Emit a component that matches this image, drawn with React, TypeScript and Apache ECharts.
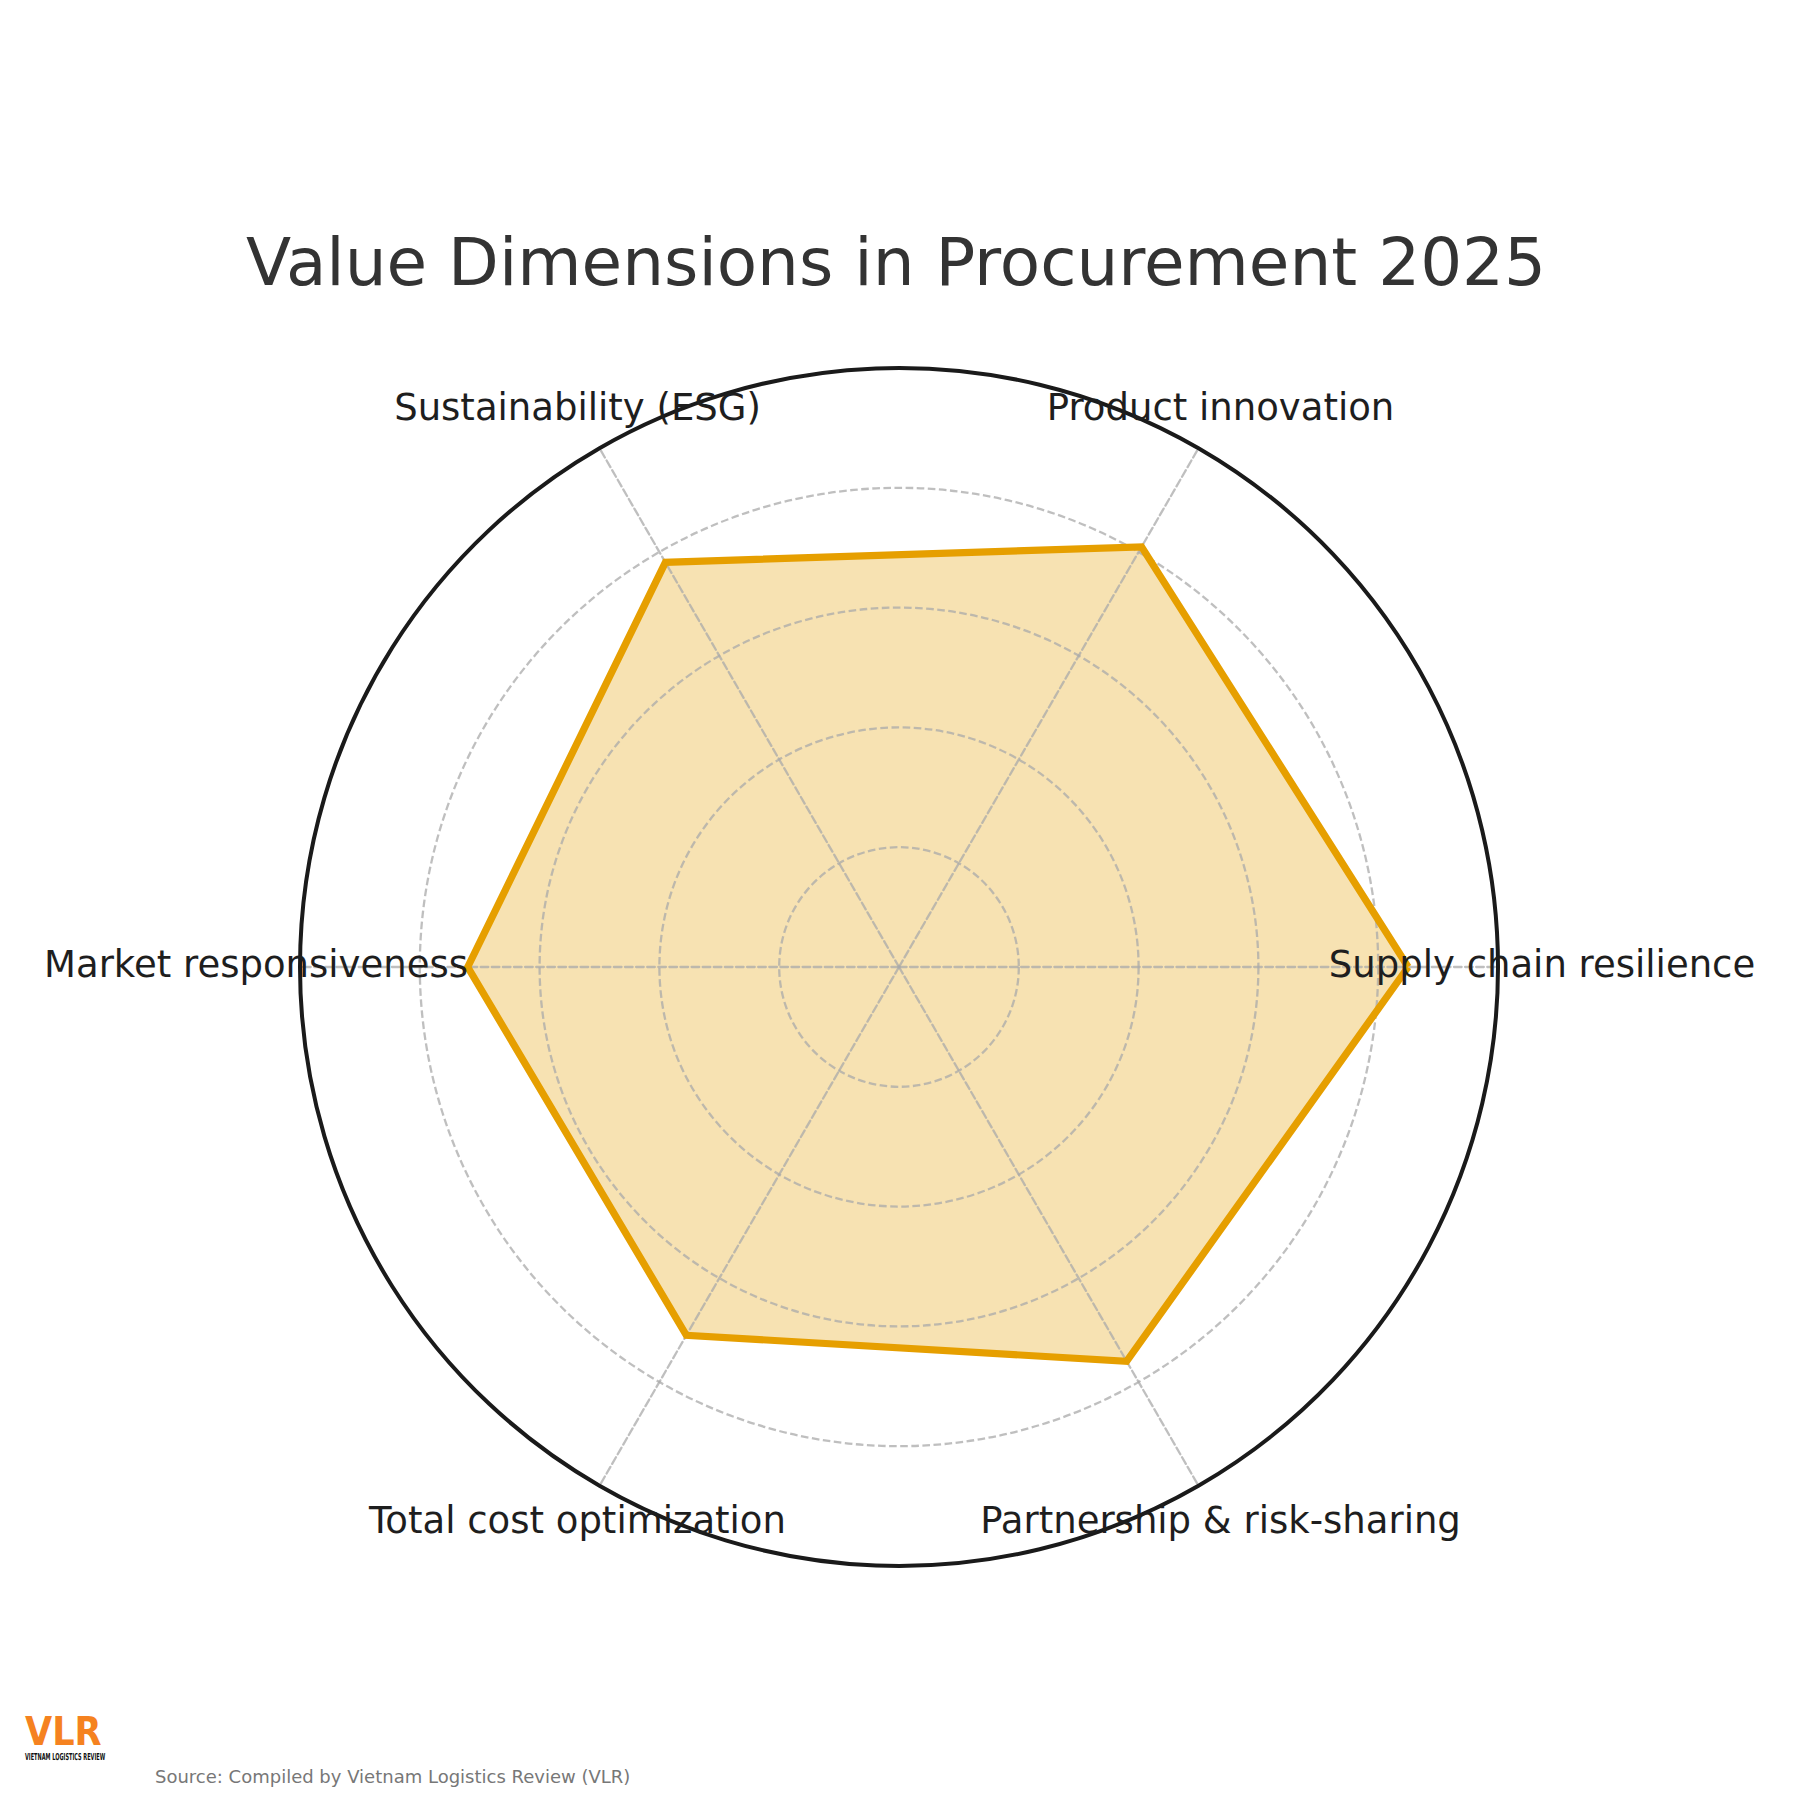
import React, { useEffect, useRef } from "react";
import * as echarts from "echarts";

const TITLE = "Value Dimensions in Procurement 2025";
const SOURCE = "Source: Compiled by Vietnam Logistics Review (VLR)";
const categories = [
  "Supply chain resilience",
  "Product innovation",
  "Sustainability (ESG)",
  "Market responsiveness",
  "Total cost optimization",
  "Partnership & risk-sharing",
];
const values = [85, 81, 78, 72, 71, 76];
const MAX_VALUE = 100;
const RING_COUNT = 5;

const CX = 899;
const CY = 967;
const RADIUS = 599;
const LABEL_R = 643;
const LABEL_DY = -3;
const FONT = "DejaVu Sans";
const GRID_STYLE = { color: "rgba(170,170,170,0.75)", width: 2.3, type: [7.6, 3.5] };

export default function App() {
  const ref = useRef<HTMLDivElement>(null);
  useEffect(() => {
    document.body.style.margin = "0";
    if (!ref.current) return;
    const chart = echarts.init(ref.current, null, { renderer: "svg" });
    const n = categories.length;
    const indicators = categories.map((name) => ({ name, min: 0, max: MAX_VALUE }));
    const labelGraphics = categories.map((name, i) => {
      const a = (i * 2 * Math.PI) / n;
      return {
        type: "text",
        z: 100,
        x: CX + LABEL_R * Math.cos(a),
        y: CY - LABEL_R * Math.sin(a) + LABEL_DY,
        style: {
          text: name,
          fill: "#1e1e1e",
          font: `37px "${FONT}"`,
          textAlign: "center",
          textVerticalAlign: "middle",
        },
      };
    });
    chart.setOption({
      animation: false,
      backgroundColor: "#ffffff",
      radar: [
        {
          z: 3,
          center: [CX, CY],
          radius: RADIUS,
          startAngle: 0,
          shape: "circle",
          splitNumber: RING_COUNT,
          indicator: indicators,
          axisName: { show: false },
          axisLine: { show: true, lineStyle: GRID_STYLE },
          axisTick: { show: false },
          axisLabel: { show: false },
          splitLine: { show: true, lineStyle: GRID_STYLE },
          splitArea: { show: false },
        },
        {
          z: 4,
          center: [CX, CY],
          radius: RADIUS,
          startAngle: 0,
          shape: "circle",
          splitNumber: 1,
          indicator: indicators,
          axisName: { show: false },
          axisLine: { show: false },
          axisTick: { show: false },
          axisLabel: { show: false },
          splitLine: { show: true, lineStyle: { color: "#1a1a1a", width: 4, type: "solid" } },
          splitArea: { show: false },
        },
      ],
      series: [
        {
          type: "radar",
          radarIndex: 0,
          z: 1,
          symbol: "none",
          lineStyle: { width: 0, opacity: 0 },
          areaStyle: { color: "#E69F00", opacity: 0.3 },
          data: [{ value: values, name: TITLE }],
        },
        {
          type: "radar",
          radarIndex: 0,
          z: 6,
          symbol: "none",
          lineStyle: { color: "#E69F00", width: 7.2, join: "miter" },
          data: [{ value: values, name: TITLE }],
        },
      ],
      graphic: [
        {
          type: "text",
          x: 896,
          y: 262,
          style: {
            text: TITLE,
            fill: "#333333",
            font: `66px "${FONT}"`,
            textAlign: "center",
            textVerticalAlign: "middle",
          },
        },
        ...labelGraphics,
        {
          type: "text",
          x: 25,
          y: 1732,
          scaleX: 0.9,
          style: {
            text: "VLR",
            fill: "#F58220",
            font: `bold 39px "${FONT}"`,
            textAlign: "left",
            textVerticalAlign: "middle",
          },
        },
        {
          type: "text",
          x: 25,
          y: 1756.5,
          scaleX: 0.52,
          style: {
            text: "VIETNAM LOGISTICS REVIEW",
            fill: "#111111",
            font: `bold 9.6px "${FONT}"`,
            textAlign: "left",
            textVerticalAlign: "middle",
          },
        },
        {
          type: "text",
          x: 155,
          y: 1776,
          style: {
            text: SOURCE,
            fill: "#777777",
            font: `18px "${FONT}"`,
            textAlign: "left",
            textVerticalAlign: "middle",
          },
        },
      ],
    });
    return () => chart.dispose();
  }, []);
  return <div ref={ref} style={{ width: 1800, height: 1800 }} />;
}
